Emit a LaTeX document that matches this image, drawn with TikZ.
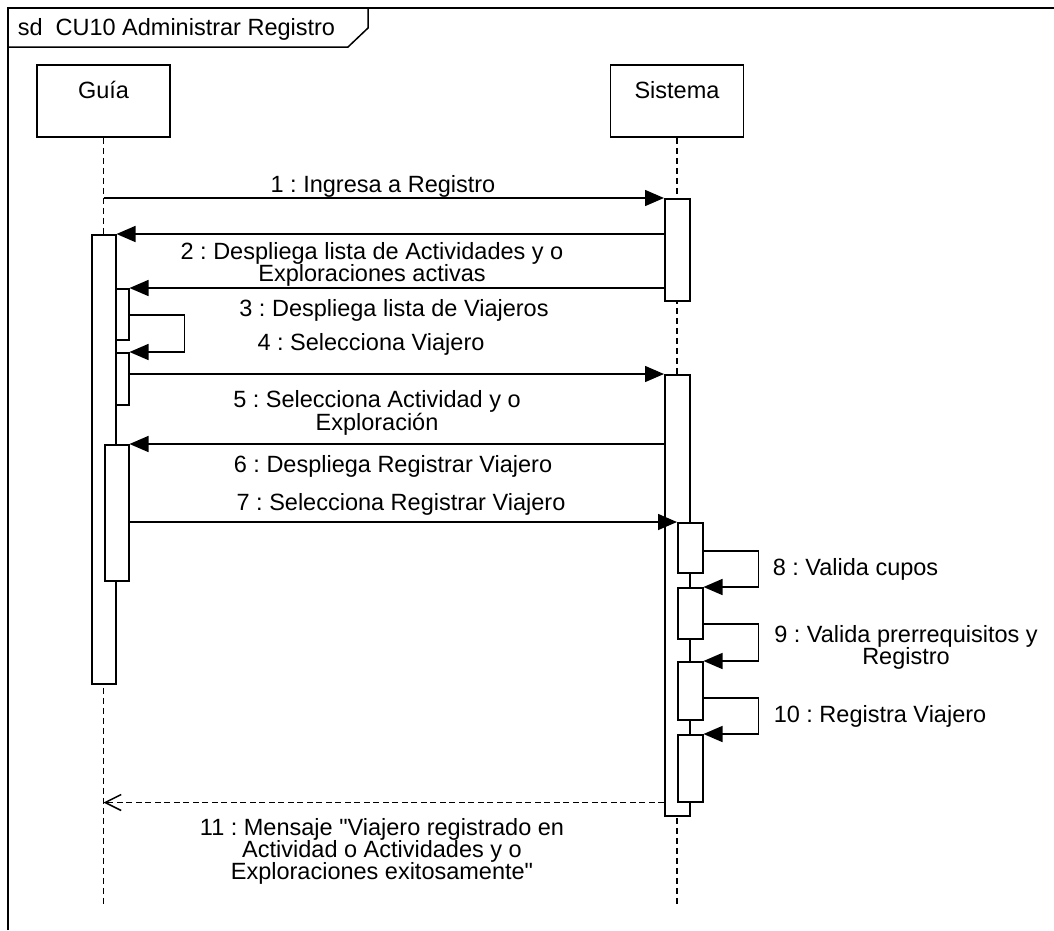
\documentclass[tikz,border=0pt]{standalone}
\usepackage{fontspec}
\newfontfamily\umlfont{Liberation Sans}
\usetikzlibrary{arrows.meta}
\frenchspacing

\tikzset{
  head/.style={draw, rectangle, minimum width=133pt, inner sep=0pt, text height=33pt, text depth=39pt, anchor=base},
  act/.style={draw, fill=white, rectangle, inner sep=0pt, anchor=north west},
  life/.style={dash pattern=on 6pt off 4pt},
  msg/.style={-{Triangle[length=19pt,width=16pt]}},
  reply/.style={dash pattern=on 6pt off 3.5pt, -{Straight Barb[length=16pt,width=16pt]}},
  lbl/.style={inner sep=0pt, anchor=base},
  lbl2/.style={inner sep=0pt, anchor=north, align=center},
}

\begin{document}
\begin{tikzpicture}[x=1pt, y=-1pt, line width=1.5pt, font=\umlfont\fontsize{23.5}{22}\selectfont]
    \useasboundingbox (0,0) rectangle (1054,930);
    \draw (8,930) -- (8,8) -- (1054,8);
    \draw (8,47) -- (348,47) -- (368,28) -- (368,8);
    \node[lbl, anchor=base west] (title) at (17,35) {sd~ CU10 Administrar Registro};

    \node[head] (guia) at (103.5,98) {Guía};
    \node[head] (sistema) at (677,98) {Sistema};
    \draw[life] (guia.south) -- (guia.south |- 0,905);
    \draw[life] (sistema.south) -- (sistema.south |- 0,905);

    \node[act, minimum width=24pt, minimum height=449pt] (a1) at (91,234) {};
    \node[act, minimum width=25pt, minimum height=102pt] (s1) at (664,198) {};
    \node[act, minimum width=25pt, minimum height=441pt] (s2) at (664,374) {};
    \node[act, minimum width=13pt, minimum height=51pt] (a2) at (115,288) {};
    \node[act, minimum width=13pt, minimum height=52pt] (a3) at (115,352) {};
    \node[act, minimum width=24pt, minimum height=136pt] (a4) at (104,444) {};
    \foreach \n/\ya/\yb in {3/522/572, 4/587/638, 5/661/719, 6/734/801}
      \node[act, minimum width=25pt, minimum height=\yb-\ya] (s\n) at (677,\ya) {};

    \draw[msg] (guia.south |- s1.north) -- (s1.north west);
    \draw[msg] (s1.west |- a1.north) -- (a1.north east);
    \draw[msg] (s1.west |- a2.north) -- (a2.north east);
    \draw[msg] (a2.east |- 0,315) -- ++(55,0) |- (a3.north east);
    \draw[msg] (a3.east |- s2.north) -- (s2.north west);
    \draw[msg] (s2.west |- a4.north) -- (a4.north east);
    \draw[msg] (a4.east |- s3.north) -- (s3.north west);
    \foreach \i/\j/\y in {3/4/551, 4/5/624, 5/6/698}
      \draw[msg] (s\i.east |- 0,\y) -- ++(55,0) |- (s\j.north east);
    \draw[reply] (s2.west |- s6.south) -- (guia.south |- s6.south); % respuesta

    \node[lbl] (l1) at (383,192) {1 : Ingresa a Registro};
    \node[lbl2] (l2) at (372,242) {2 : Despliega lista de Actividades y o\\Exploraciones activas};
    \node[lbl] (l3) at (394,316) {3 : Despliega lista de Viajeros};
    \node[lbl] (l4) at (371,350) {4 : Selecciona Viajero};
    \node[lbl2] (l5) at (377,390) {5 : Selecciona Actividad y o\\Exploración};
    \node[lbl] (l6) at (393,472) {6 : Despliega Registrar Viajero};
    \node[lbl] (l7) at (401,510) {7 : Selecciona Registrar Viajero};
    \node[lbl, anchor=base west] (l8) at (772,575) {8 : Valida cupos};
    \node[lbl2] (l9) at (906,625) {9 : Valida prerrequisitos y\\Registro};
    \node[lbl, anchor=base west] (l10) at (773,722) {10 : Registra Viajero};
    \node[lbl2] (l11) at (382,818) {11 : Mensaje "Viajero registrado en\\Actividad o Actividades y o\\Exploraciones exitosamente"};
\end{tikzpicture}
\end{document}
